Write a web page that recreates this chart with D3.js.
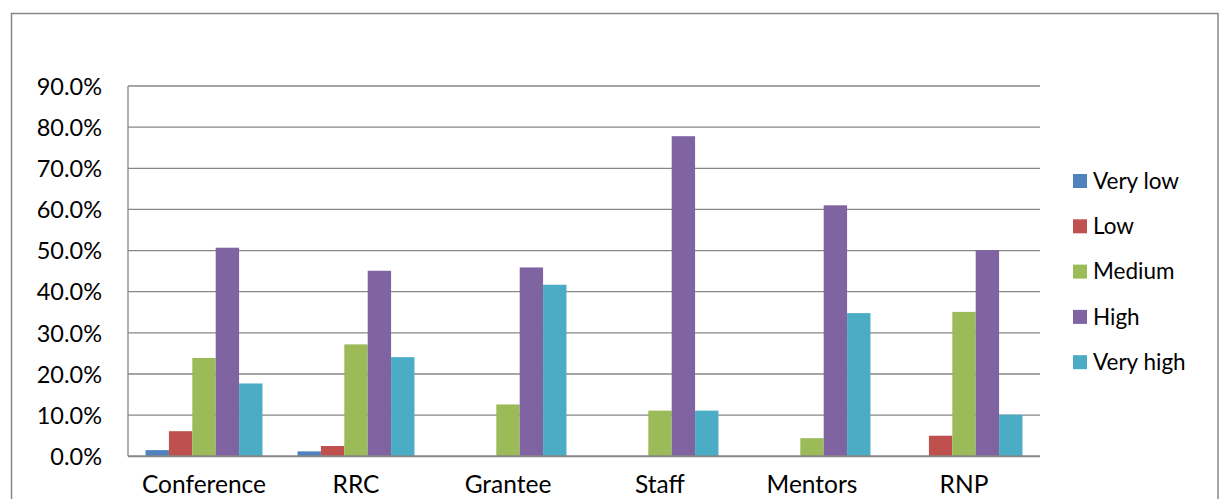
<!DOCTYPE html>
<html><head><meta charset="utf-8">
<script src="https://cdn.jsdelivr.net/npm/d3@7"></script>
<style>body{margin:0;background:#fff}svg{display:block}text{font-family:Lato,"Open Sans",sans-serif;fill:#000}</style>
</head><body>
<svg id="c" width="1219" height="499"></svg>
<script>
const categories = ["Conference","RRC","Grantee","Staff","Mentors","RNP"];
const seriesNames = ["Very low","Low","Medium","High","Very high"];
const veryLow  = [1.5, 1.2, 0, 0, 0, 0];
const low      = [6.1, 2.5, 0, 0, 0, 5.0];
const medium   = [23.9, 27.2, 12.6, 11.1, 4.4, 35.1];
const high     = [50.7, 45.1, 45.9, 77.8, 61.0, 50.1];
const veryHigh = [17.7, 24.1, 41.7, 11.1, 34.8, 10.1];
const yTicks = [0,10,20,30,40,50,60,70,80,90];
const colors = ["#4F81BD","#C0504D","#9BBB59","#8064A2","#4BACC6"];
const seriesValues = [veryLow, low, medium, high, veryHigh];

const svg = d3.select("#c");
const L = 128, R = 1040, T = 86, B = 456.3;

// outer frame
svg.append("rect").attr("x",11.5).attr("y",13.5).attr("width",1206.5).attr("height",520)
  .attr("fill","none").attr("stroke","#878787").attr("stroke-width",1.5);

const x0 = d3.scaleBand().domain(categories).range([L,R]).paddingInner(0).paddingOuter(0);
const x1 = d3.scaleBand().domain(seriesNames).range([0,x0.bandwidth()]).paddingInner(0).paddingOuter(0.75);
const y = d3.scaleLinear().domain([0,90]).range([B,T]);

// gridlines
svg.append("g").selectAll("line").data(yTicks.filter(d=>d>0)).join("line")
  .attr("x1",L).attr("x2",R).attr("y1",d=>y(d)).attr("y2",d=>y(d))
  .attr("stroke","#878787").attr("stroke-width",1.3);
// left axis line
svg.append("line").attr("x1",L).attr("x2",L).attr("y1",T).attr("y2",B).attr("stroke","#878787").attr("stroke-width",1.3);

// bars
const g = svg.append("g");
categories.forEach((c,ci)=>{
  seriesNames.forEach((s,si)=>{
    const v = seriesValues[si][ci];
    if (v<=0) return;
    g.append("rect").attr("x",x0(c)+x1(s)).attr("width",x1.bandwidth())
      .attr("y",y(v)).attr("height",B-y(v)).attr("fill",colors[si]);
  });
});

// zero axis line
svg.append("line").attr("x1",L).attr("x2",R).attr("y1",B).attr("y2",B).attr("stroke","#878787").attr("stroke-width",2);

// y tick labels
const yAxis = d3.axisLeft(y).tickValues(yTicks).tickFormat(d=>d.toFixed(1)+"%").tickSize(0).tickPadding(26);
const ya = svg.append("g").attr("transform",`translate(${L},0)`).call(yAxis);
ya.select(".domain").remove();
ya.selectAll("text").style("font-family","Lato,'Open Sans',sans-serif").style("font-size","23.5px").attr("fill","#000").attr("dy","0.35em");

// x labels
svg.append("g").selectAll("text").data(categories).join("text")
  .attr("x",d=>x0(d)+x0.bandwidth()/2).attr("y",493).attr("text-anchor","middle")
  .style("font-size","24.5px").text(d=>d);

// legend
const lg = svg.append("g");
seriesNames.forEach((s,i)=>{
  const yy = 181 + i*45.3;
  lg.append("rect").attr("x",1073).attr("y",yy-7).attr("width",14).attr("height",14).attr("fill",colors[i]);
  lg.append("text").attr("x",1093).attr("y",yy).attr("dy","0.35em").style("font-size","22.5px").text(s);
});
</script>
</body></html>
